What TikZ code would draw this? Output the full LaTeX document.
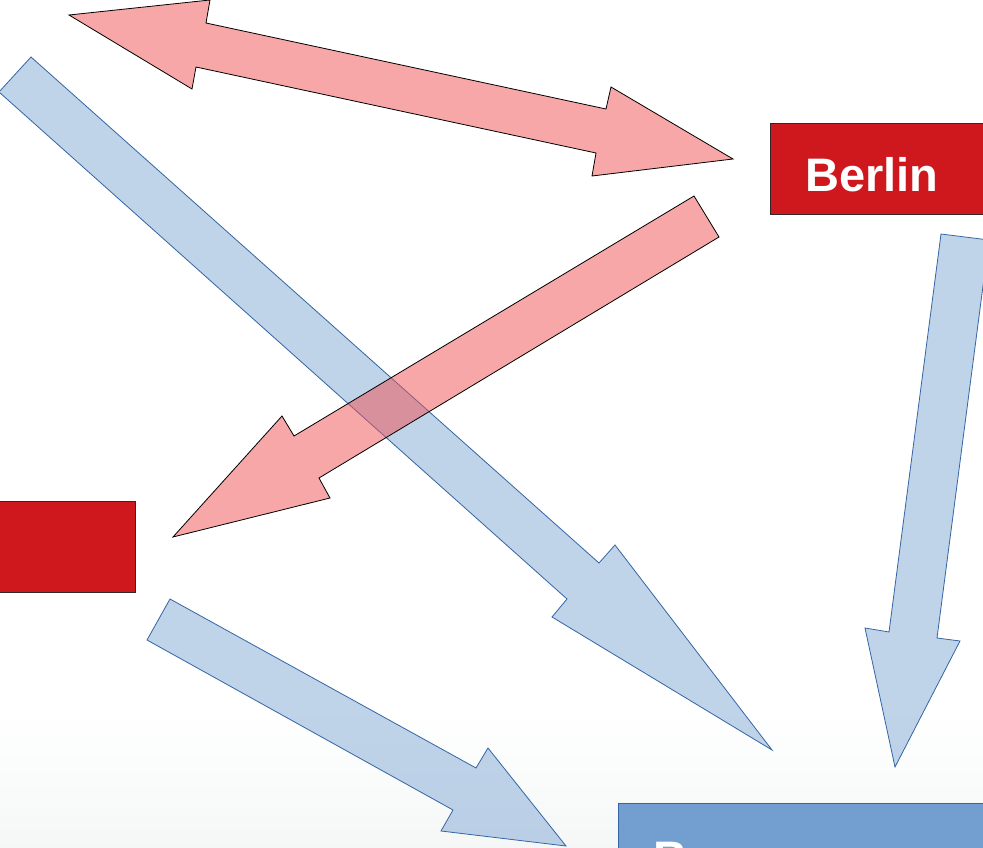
\documentclass[tikz,border=0pt]{standalone}
\usepackage{fontspec}
\setmainfont{Liberation Sans}
\definecolor{redfill}{RGB}{241,81,81}
\definecolor{bluefill}{RGB}{114,159,207}
\definecolor{blueline}{RGB}{52,101,164}
\definecolor{boxred}{RGB}{206,24,30}
\definecolor{boxline}{RGB}{50,40,40}
\definecolor{bggray}{RGB}{245,247,247}
\begin{document}
\begin{tikzpicture}[x=1pt,y=-1pt,
  redarrow/.style={draw=black,line width=0.8pt,fill=redfill,fill opacity=0.5,line join=miter},
  bluearrow/.style={draw=blueline,line width=0.8pt,fill=bluefill,fill opacity=0.45,line join=miter},
  redbox/.style={draw=boxline,line width=0.8pt,fill=boxred},
  bluebox/.style={draw=blueline,line width=0.8pt,fill=bluefill},
  label/.style={text=white,font=\fontsize{47}{50}\selectfont\bfseries,inner sep=0pt,anchor=base west}]
\useasboundingbox (0,0) rectangle (983,848);
\clip (0,0) rectangle (983,848);
\fill[white] (0,0) rectangle (983,848);
\shade[top color=white,bottom color=bggray] (0,710) rectangle (983,849);
% boxes
\path[redbox] (770,123) rectangle (995,214);
\node[label] (berlin) at (805,191) {Berlin};
\path[redbox] (-10,501) rectangle (135,592);
\path[bluebox] (618,803) rectangle (995,900);
\node[label] (bottomtext) at (653,874) {B};
% blue arrows
\path[bluearrow] (31,57) -- (599,563) -- (615,545) -- (772,750) -- (552,617) -- (567,599) -- (-1,92) -- cycle;
\path[bluearrow] (941,234) -- (989,240) -- (937,638) -- (960,641) -- (895,767) -- (865,628) -- (889,632) -- cycle;
\path[bluearrow] (170,599) -- (476,768) -- (488,748) -- (566,846) -- (441,831) -- (453,810) -- (147,640) -- cycle;
% red arrows
\path[redarrow] (69,15) -- (210,0) -- (206,23) -- (606,109) -- (611,87) -- (733,159) -- (592,176) -- (596,153) -- (196,67) -- (192,89) -- cycle;
\path[redarrow] (694,196) -- (719,237) -- (319,478) -- (330,498) -- (173,537) -- (282,416) -- (294,436) -- cycle;
\end{tikzpicture}
\end{document}
